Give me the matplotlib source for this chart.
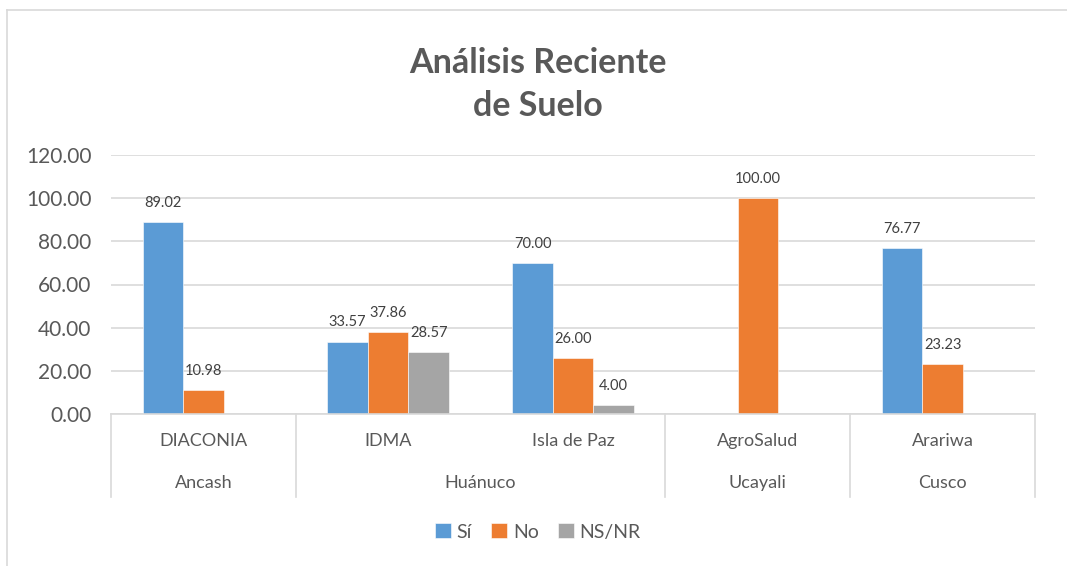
import matplotlib.pyplot as plt
import numpy as np
import matplotlib.transforms as mtransforms

plt.rcParams['font.family'] = ['Lato', 'DejaVu Sans']

orgs = ["DIACONIA", "IDMA", "Isla de Paz", "AgroSalud", "Arariwa"]
regions = ["Ancash", "Huánuco", "Ucayali", "Cusco"]
region_span = [(0, 0), (1, 2), (3, 3), (4, 4)]  # org index range per region
series = ["Sí", "No", "NS/NR"]
si = [89.02, 33.57, 70.00, np.nan, 76.77]
no = [10.98, 37.86, 26.00, 100.00, 23.23]
nsnr = [np.nan, 28.57, 4.00, np.nan, np.nan]
colors = ["#5B9BD5", "#ED7D31", "#A5A5A5"]
yticks = [0, 20, 40, 60, 80, 100, 120]

W, H = 1067, 566
fig = plt.figure(figsize=(W / 100, H / 100), dpi=100)

# outer chart border (only top and left visible)
fig.add_artist(plt.Line2D([7 / W, 7 / W], [0, 1 - 10 / H], color="#D9D9D9", lw=1.2))
fig.add_artist(plt.Line2D([7 / W, 1], [1 - 10 / H, 1 - 10 / H], color="#D9D9D9", lw=1.2))

left, right, top, bottom = 111, 1035, 155, 414
ax = fig.add_axes([left / W, 1 - bottom / H, (right - left) / W, (bottom - top) / H])

x = np.arange(len(orgs))
bw = 0.219
for i, (vals, c, name) in enumerate(zip([si, no, nsnr], colors, series)):
    xs = x + (i - 1) * bw
    ax.bar(xs, np.nan_to_num(vals), width=bw, color=c, label=name, zorder=3,
           edgecolor="white", linewidth=0.4)
    for xv, v in zip(xs, vals):
        if not np.isnan(v):
            ax.annotate(f"{v:.2f}", (xv, v), xytext=(0, 11), textcoords="offset points",
                        ha="center", va="baseline", fontsize=10.5, color="#404040")

ax.set_xlim(-0.5, len(orgs) - 0.5)
ax.set_ylim(0, 120)
ax.set_yticks(yticks)
ax.set_yticklabels([f"{t:.2f}" for t in yticks], fontsize=15, color="#595959")
ax.tick_params(axis="y", length=0, pad=14)
ax.set_xticks([])
ax.grid(axis="y", color="#D9D9D9", lw=1.2, zorder=0)
for s in ["top", "right", "left"]:
    ax.spines[s].set_visible(False)
ax.spines["bottom"].set_color("#D9D9D9")
ax.spines["bottom"].set_linewidth(1.2)
ax.spines["bottom"].set_zorder(4)

# multi-level category axis
trans = mtransforms.blended_transform_factory(ax.transData, ax.transAxes)
ph = bottom - top
row1 = -(441 - bottom) / ph
row2 = -(483 - bottom) / ph
low = -(497 - bottom) / ph
for xv, name in zip(x, orgs):
    ax.text(xv, row1, name, transform=trans, ha="center", va="center",
            fontsize=13, color="#595959")
seps = [-0.5]
for name, (a, b) in zip(regions, region_span):
    ax.text((a + b) / 2, row2, name, transform=trans, ha="center", va="center",
            fontsize=13, color="#595959")
    seps.append(b + 0.5)
for s in seps:
    ax.plot([s, s], [0, low], transform=trans, color="#D9D9D9", lw=1.2, clip_on=False)

fig.text(538 / W, 1 - 63 / H, "Análisis Reciente", ha="center",
         va="center", fontsize=24.5, fontweight="bold", color="#595959")
fig.text(538 / W, 1 - 106 / H, "de Suelo", ha="center",
         va="center", fontsize=24.5, fontweight="bold", color="#595959")

fig.legend(loc="center", bbox_to_anchor=(538 / W, 1 - 532 / H), ncol=3, frameon=False,
           fontsize=14, labelcolor="#595959", handlelength=0.8, handleheight=0.8,
           handletextpad=0.3, columnspacing=1.0)

fig.savefig("out.png", dpi=100)
